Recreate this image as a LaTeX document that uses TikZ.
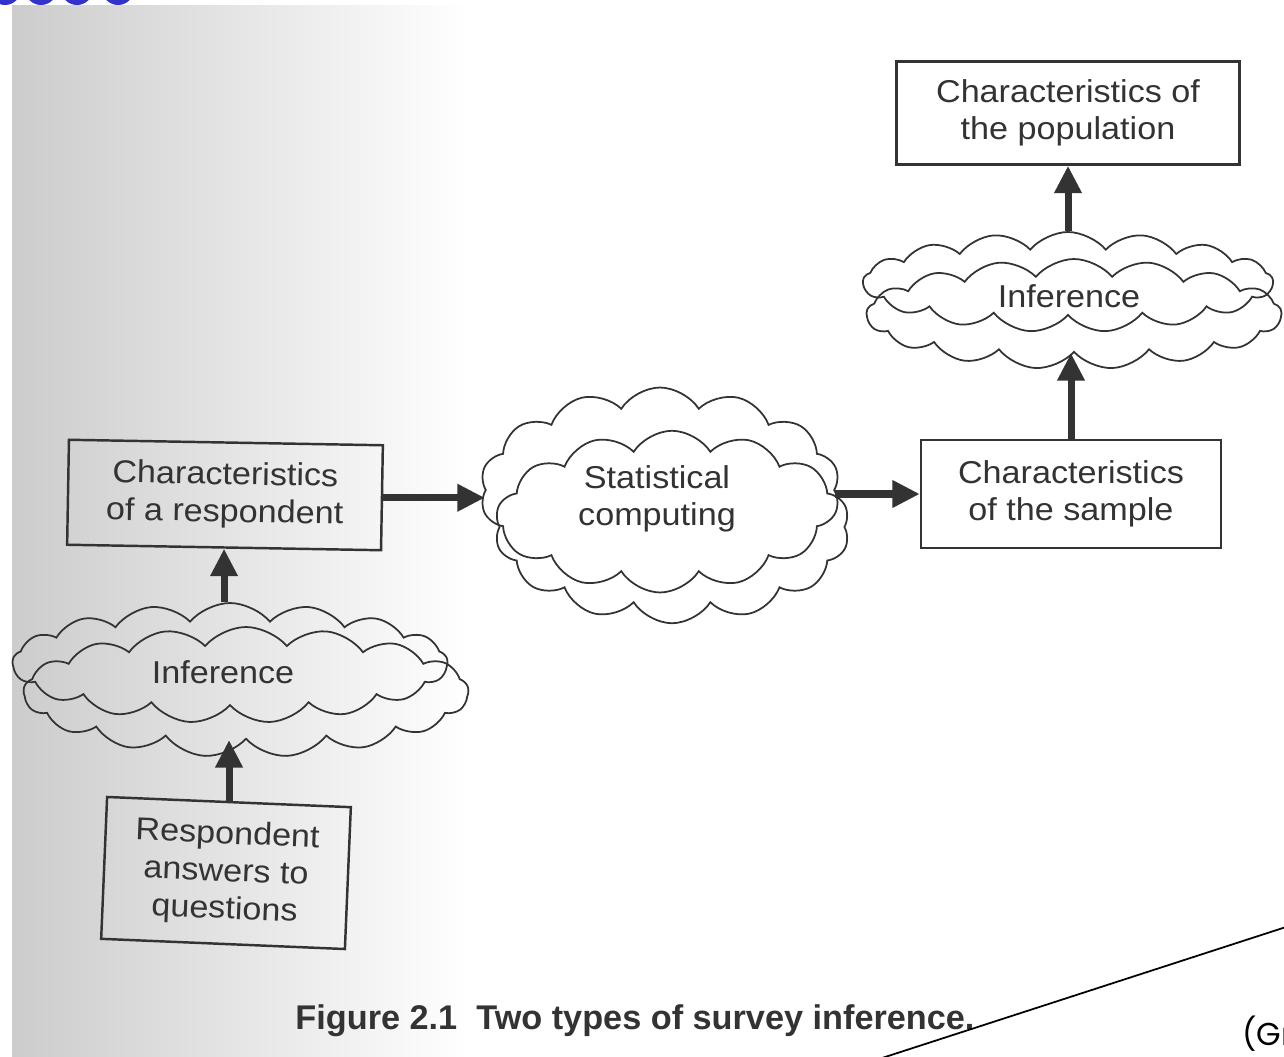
\documentclass[tikz,border=0pt]{standalone}
\usepackage{fontspec}
\setmainfont{Liberation Sans}
\newfontfamily\boxfont[FakeStretch=1.08]{Liberation Sans}
\newfontfamily\srcfont{Poppins}
\usetikzlibrary{shapes.symbols,arrows.meta}
\definecolor{ink}{HTML}{333333}
\definecolor{slideblue}{HTML}{3333CC}
\begin{document}
\begin{tikzpicture}[x=0.02cm,y=-0.02cm,
  box/.style={draw=ink,line width=1.4pt,text=ink,align=center,inner sep=0pt,
    font=\boxfont\fontsize{18}{21.3}\selectfont},
  puff/.style={cloud,cloud puffs=14,cloud puff arc=115,cloud ignores aspect,
    draw=ink,line width=1pt,inner sep=0pt},
  flatpuff/.style={puff,cloud puffs=17,cloud puff arc=100},
  arr/.style={draw=ink,line width=4pt,-{Triangle[length=0.55cm,width=0.52cm]}}]
\clip (0,0) rectangle (1284,1057);
\fill[white] (0,0) rectangle (1284,1057);
% scanned page
\shade[left color=black!20,right color=white] (12,6) rectangle (470,1057);
\foreach \bx in {5,41,77,118}
  \fill[slideblue] (\bx,-11) circle (16);
% boxes
\node[box,minimum width=6.86cm,minimum height=2.06cm] (pop) at (1068,113)
  {Characteristics of\\the population};
\node[box,minimum width=6.0cm,minimum height=2.16cm] (sample) at (1071,494)
  {Characteristics\\of the sample};
\node[box,minimum width=6.28cm,minimum height=2.1cm,rotate=-1] (resp) at (225,495)
  {Characteristics\\of a respondent};
\node[box,minimum width=4.88cm,minimum height=2.84cm,rotate=-2.4] (answers) at (226,873)
  {Respondent\\answers to\\questions};
% clouds
\node[flatpuff,minimum width=8.2cm,minimum height=2.0cm] (infRa) at (1068,282) {};
\node[flatpuff,minimum width=8.3cm,minimum height=2.2cm] (infR) at (1074,314) {};
\node[puff,minimum width=7.2cm,minimum height=4.1cm] (stata) at (660,490) {};
\node[puff,minimum width=7.1cm,minimum height=3.85cm] (stat) at (672,527) {};
\node[flatpuff,minimum width=8.7cm,minimum height=2.4cm] (infLa) at (230,663) {};
\node[flatpuff,minimum width=8.9cm,minimum height=2.6cm] (infL) at (246,692) {};
\node[box,draw=none] (infRt) at (1069,296) {Inference};
\node[box,draw=none] (statt) at (657,499) {Statistical\\computing};
\node[box,draw=none] (infLt) at (223,672) {Inference};
% arrows
\draw[arr] (answers.north) -- (answers.north |- infL.south);
\draw[arr] (resp.south |- infLa.north) -- (resp.south);
\draw[arr] (resp.east) -- (resp.east -| stata.west);
\draw[arr] (sample.west -| stata.east) -- (sample.west);
\draw[arr] (sample.north) -- (sample.north |- infR.south);
\draw[arr] (pop.south |- infRa.north) -- (pop.south);
% caption and note
\node[text=ink,font=\bfseries\fontsize{19.5}{22}\selectfont] (cap) at (635,1021)
  {Figure 2.1\ \ Two types of survey inference.};
\node[anchor=base west,font=\srcfont\fontsize{18}{22}\selectfont] (src) at (1236,1045) {(Gr};
\coordinate (lnA) at (882,1058);
\coordinate (lnB) at (1286,927);
\draw[line width=1pt] (lnA) -- (lnB);
\end{tikzpicture}
\end{document}
